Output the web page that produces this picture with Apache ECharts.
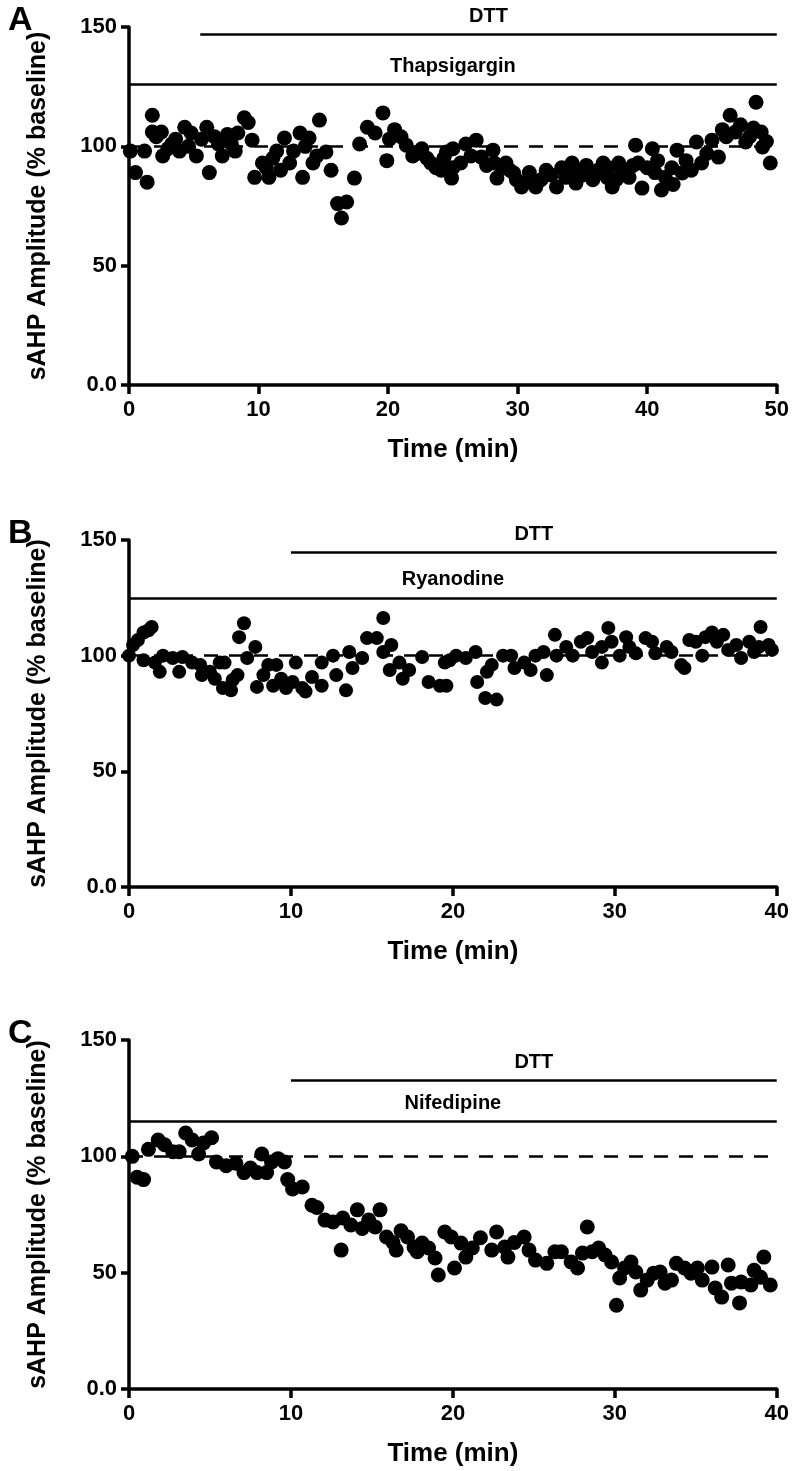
<!DOCTYPE html>
<html>
<head>
<meta charset="utf-8">
<script src="https://cdn.jsdelivr.net/npm/echarts@6/dist/echarts.min.js"></script>
<style>
html,body{margin:0;padding:0;background:#fff;}
#chart{width:792px;height:1471px;}
</style>
</head>
<body>
<div id="chart"></div>
<script>
// ---- Data (Time in min, sAHP amplitude in % baseline) ----
const panelA_points = [[0.1,98],[0.5,89],[1.2,98],[1.4,85],[1.8,113],[1.8,106],[2.1,104],[2.5,106],[2.6,96],[3.0,99],[3.3,101],[3.6,103],[3.9,98],[4.3,108],[4.6,100],[4.8,105.6],[5.2,96],[5.6,103],[6.0,108],[6.2,89],[6.6,104],[6.9,101],[7.2,96],[7.6,105],[7.9,101],[8.2,98],[8.4,105.6],[8.9,112],[9.2,110],[9.5,102.6],[9.7,87],[10.3,93],[10.6,91],[10.8,87],[11.1,95],[11.4,98],[11.7,90],[12.0,103.5],[12.4,93],[12.7,98],[13.2,105.6],[13.4,87],[13.6,100],[13.9,103.5],[14.2,93],[14.5,96],[14.7,111],[15.2,97.6],[15.6,90],[16.1,76],[16.4,70],[16.8,76.7],[17.4,86.7],[17.8,101],[18.4,108],[19.0,105.6],[19.6,114],[19.9,94],[20.1,103],[20.5,107],[21.0,104],[21.4,100.5],[21.9,96],[22.2,97],[22.6,99],[23.0,95],[23.3,93],[23.7,91],[24.1,90],[24.3,95],[24.5,97.6],[24.9,86.7],[25.0,91],[25.0,99],[25.6,93],[26.0,101],[26.4,96],[26.8,102.6],[27.2,95.5],[27.6,92],[28.1,98.4],[28.2,93],[28.4,86.7],[28.8,91],[29.1,93],[29.4,90],[29.7,88.8],[29.9,86],[30.3,83],[30.6,85],[30.9,89],[31.1,86],[31.4,83],[31.8,86],[32.2,90],[32.6,88],[33.0,83],[33.4,91],[33.7,87],[34.0,89],[34.2,93],[34.5,84.6],[34.8,90],[35.0,88],[35.3,92],[35.6,89],[35.8,86],[36.2,90],[36.6,93],[36.9,87],[37.0,91],[37.3,83],[37.6,86],[37.8,93],[38.0,90],[38.3,88],[38.6,87],[38.9,92],[39.1,100.5],[39.3,93],[39.6,82.5],[40.0,91],[40.4,99],[40.6,89],[40.8,94],[41.1,81.7],[41.4,87],[41.9,91],[42.0,84],[42.3,98.4],[42.7,88.8],[43.0,94],[43.4,90],[43.8,101.8],[44.2,93],[44.6,97],[45.0,102.6],[45.5,95.5],[45.8,107],[46.1,104],[46.4,113],[46.8,106],[47.2,109],[47.6,101.8],[47.9,104],[48.2,107.7],[48.4,118.5],[48.8,106],[48.9,99.7],[49.2,102],[49.5,93]];

const panelB_points = [[0,100],[0.25,104.6],[0.55,106.8],[0.9,110],[0.9,98],[1.2,111],[1.4,112.4],[1.6,97],[1.9,93],[2.1,100],[2.7,99],[3.1,93],[3.3,99.4],[3.9,97],[4.4,96],[4.5,91.6],[5.0,93],[5.3,90],[5.6,97],[5.8,86],[5.9,97],[6.3,85],[6.4,89.5],[6.7,91.6],[6.8,108],[7.1,114],[7.3,99],[7.8,103.8],[7.9,86.5],[8.3,91.6],[8.6,96],[8.9,87],[9.1,96],[9.4,90],[9.7,86],[10.1,88.6],[10.3,97],[10.7,86],[10.9,84.5],[11.3,90.8],[11.9,87],[11.9,97],[12.6,100],[12.8,91.6],[13.4,85],[13.6,101.6],[13.8,94.7],[14.4,99],[14.7,107.6],[15.3,107.6],[15.7,116.3],[15.7,101.6],[16.1,93.8],[16.2,104.6],[16.7,97],[16.9,90],[17.3,93.8],[18.1,99.4],[18.5,88.6],[19.2,87],[19.5,97],[19.6,87],[19.8,98],[20.2,100],[20.8,99],[21.4,101.6],[21.5,88.6],[22.0,81.7],[22.1,93],[22.4,96],[22.7,81],[23.1,100],[23.6,100],[23.8,94.7],[24.4,97],[24.8,93.8],[25.1,100],[25.6,101.6],[25.8,91.6],[26.3,109],[26.4,100],[27.0,103.8],[27.4,100],[27.9,106],[28.3,107.6],[28.6,101.6],[29.2,97],[29.2,103.8],[29.6,112],[29.8,106],[30.3,100],[30.7,108],[30.9,103.8],[31.3,101],[31.9,107.6],[32.3,106],[32.5,101],[33.2,103.8],[33.5,101.6],[34.1,96],[34.3,94.7],[34.6,106.8],[35.0,106],[35.4,100],[35.6,108],[36.0,110],[36.3,106],[36.7,109],[37.0,102.5],[37.5,104.6],[37.8,99],[38.3,106],[38.6,101.6],[38.9,103.8],[39.0,112.4],[39.5,104.6],[39.7,102.5]];

const panelC_points = [[0.2,100],[0.5,91],[0.9,90],[1.2,103],[1.8,107],[2.2,105],[2.7,102],[3.1,102],[3.5,110],[3.9,107],[4.3,101],[4.6,105.7],[5.1,108],[5.4,97.6],[6.0,96],[6.6,97],[7.1,93],[7.5,95],[7.9,93],[8.2,101],[8.5,93],[8.8,97.6],[9.2,99],[9.6,97.6],[9.8,90],[10.1,86],[10.7,86.8],[11.3,79],[11.6,78],[12.1,72.6],[12.6,71.8],[13.1,59.7],[13.2,73.5],[13.7,70.5],[14.1,77],[14.4,69],[14.8,72.6],[15.2,69.6],[15.5,77],[15.9,65.3],[16.3,63],[16.5,59.7],[16.8,68],[17.2,65.3],[17.6,61],[17.8,59],[18.1,62.7],[18.5,60.6],[18.9,56.3],[19.1,49],[19.5,67.5],[19.9,65.3],[20.1,52],[20.5,62.7],[20.8,56.7],[21.2,60.6],[21.7,65],[22.4,59.7],[22.7,67.5],[23.2,61],[23.4,56.7],[23.8,63],[24.4,65.3],[24.7,59.7],[25.1,55.4],[25.8,54],[26.3,59],[26.7,59],[27.3,54.6],[27.7,52],[28.0,58.4],[28.3,69.6],[28.6,59],[29.0,60.6],[29.4,57.6],[29.8,54.6],[30.1,36],[30.3,47.7],[30.6,52],[31.0,54.6],[31.3,50.3],[31.6,42.5],[32.0,46.8],[32.4,49.8],[32.8,50.3],[33.1,45.5],[33.5,46.8],[33.8,54],[34.3,52],[34.7,49.8],[35.1,52],[35.4,46.8],[36.0,52.4],[36.2,43.4],[36.6,39.5],[37.0,53.3],[37.2,45.5],[37.7,37],[37.8,46],[38.4,44.7],[38.6,51],[39.0,48],[39.2,56.7],[39.6,44.7]];

// Drug application bars: [label, start (min), end (min), level (% baseline)]
const panelA_bars = [['DTT',5.5,50,147],['Thapsigargin',0,50,126]];
const panelB_bars = [['DTT',10,40,144.5],['Ryanodine',0,40,125]];
const panelC_bars = [['DTT',10,40,132.5],['Nifedipine',0,40,115]];

const panelLetters = ['A','B','C'];
const xMaxes = [50,40,40];
const yTicks = [0,50,100,150];
const baselineValue = 100;
const yAxisTitle = 'sAHP Amplitude (% baseline)';
const xAxisTitle = 'Time (min)';

// ---- Layout ----
const grids = [
  {left:129, top:27, width:649, height:358},
  {left:129, top:540, width:649, height:347},
  {left:129, top:1040, width:649, height:349}
];
const markerSizes = [15,14,15];
const FONT = '"Liberation Sans", Arial, sans-serif';
const NARROW = '"Liberation Sans Narrow", "Arial Narrow", "Liberation Sans", Arial, sans-serif';

const allPoints = [panelA_points, panelB_points, panelC_points];
const allBars = [panelA_bars, panelB_bars, panelC_bars];

const chart = echarts.init(document.getElementById('chart'), null, {renderer:'canvas'});

const option = {
  animation:false,
  backgroundColor:'#ffffff',
  title: panelLetters.map((t,i)=>({
    text:t, left:3, top:grids[i].top - 28,
    textStyle:{fontFamily:FONT, fontWeight:'bold', fontSize:34, color:'#000'}
  })),
  grid: grids,
  xAxis: grids.map((g,i)=>({
    gridIndex:i, type:'value', min:0, max:xMaxes[i], interval:10,
    name:xAxisTitle, nameLocation:'middle', nameGap:52,
    nameTextStyle:{fontFamily:NARROW, fontWeight:'bold', fontSize:26, color:'#000'},
    axisLine:{show:true, onZero:false, lineStyle:{color:'#000', width:3.5}},
    axisTick:{show:true, length:9, lineStyle:{color:'#000', width:3.5}},
    axisLabel:{fontFamily:NARROW, fontWeight:'bold', fontSize:22, color:'#000', margin:14},
    splitLine:{show:false}
  })),
  yAxis: grids.map((g,i)=>({
    gridIndex:i, type:'value', min:yTicks[0], max:yTicks[yTicks.length-1], interval:50,
    name:yAxisTitle, nameLocation:'middle', nameGap:78, nameRotate:90,
    nameTextStyle:{fontFamily:FONT, fontWeight:'bold', fontSize:25, color:'#000'},
    axisLine:{show:true, onZero:false, lineStyle:{color:'#000', width:3.5}},
    axisTick:{show:true, length:8, lineStyle:{color:'#000', width:3.5}},
    axisLabel:{fontFamily:NARROW, fontWeight:'bold', fontSize:22, color:'#000', margin:12,
      formatter:v=> v===0 ? '0.0' : String(v)},
    splitLine:{show:false}
  })),
  series: allPoints.map((pts,i)=>({
    type:'scatter', xAxisIndex:i, yAxisIndex:i,
    data:pts, symbol:'circle', symbolSize:markerSizes[i],
    itemStyle:{color:'#000', opacity:1},
    z:3,
    markLine:{
      silent:true, symbol:['none','none'], animation:false, z:2,
      data:[
        {yAxis:baselineValue, lineStyle:{type:[14,11], width:2.6, color:'#000'}, label:{show:false}},
        ...allBars[i].map(b=>[
          {coord:[b[1],b[3]], name:b[0],
           lineStyle:{type:'solid', width:2.6, color:'#000'},
           label:{show:true, position:'insideMiddleTop', distance:8, formatter:b[0],
             fontFamily:FONT, fontWeight:'bold', fontSize:20, color:'#000'}},
          {coord:[b[2],b[3]]}
        ])
      ]
    }
  }))
};
chart.setOption(option);
</script>
</body>
</html>
